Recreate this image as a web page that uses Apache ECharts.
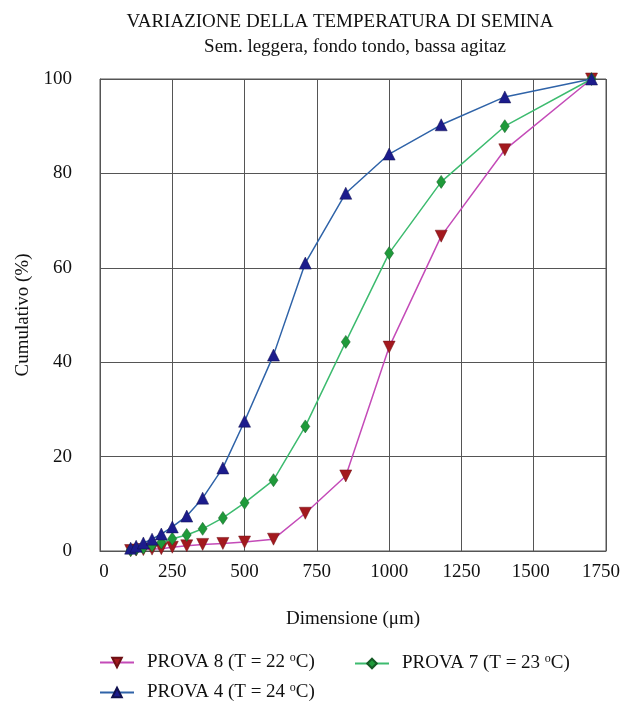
<!DOCTYPE html>
<html>
<head>
<meta charset="utf-8">
<script src="https://cdn.jsdelivr.net/npm/echarts@6/dist/echarts.min.js"></script>
<style>
  html, body { margin: 0; padding: 0; background: #fff; }
  #main { width: 621px; height: 702px; }
</style>
</head>
<body>
<div id="main"></div>
<script>
// dimensioni setacci (um)
var sizes = [106, 125, 150, 180, 212, 250, 300, 355, 425, 500, 600, 710, 850, 1000, 1180, 1400, 1700];

// cumulativo (%)
var prova8 = [0.1, 0.2, 0.3, 0.4, 0.5, 0.8, 1.1, 1.4, 1.6, 1.9, 2.5, 8.0, 15.9, 43.2, 66.7, 85.0, 100];
var prova7 = [0.2, 0.4, 0.7, 1.2, 1.8, 2.6, 3.4, 4.7, 7.0, 10.2, 15.0, 26.4, 44.3, 63.1, 78.2, 90.0, 100];
var prova4 = [0.6, 1.0, 1.7, 2.5, 3.6, 5.1, 7.4, 11.2, 17.6, 27.5, 41.5, 61.0, 75.8, 84.1, 90.3, 96.2, 100];

var xTicks = [0, 250, 500, 750, 1000, 1250, 1500, 1750];
var yTicks = [0, 20, 40, 60, 80, 100];

var name8 = 'PROVA 8 (T = 22 °C)';
var name7 = 'PROVA 7 (T = 23 °C)';
var name4 = 'PROVA 4 (T = 24 °C)';

function pairs(ys) {
  return sizes.map(function (x, i) { return [x, ys[i]]; });
}

var font = '"Liberation Serif", "Times New Roman", serif';
var lbl = { fontFamily: font, fontSize: 19, color: '#111' };

var legendBase = {
  orient: 'horizontal',
  itemWidth: 34,
  itemHeight: 12,
  textStyle: {
    fontFamily: font, fontSize: 19, color: '#111',
    padding: [0, 0, 0, 8],
    rich: { sup: { fontFamily: font, fontSize: 12, color: '#111', verticalAlign: 'top', padding: [0, 0, 9, 0] } }
  },
  formatter: function (n) { return n.replace('°', '{sup|o}'); }
};

var chart = echarts.init(document.getElementById('main'));

var option = {
  backgroundColor: '#ffffff',
  animation: false,
  title: [
    {
      text: 'VARIAZIONE DELLA TEMPERATURA DI SEMINA',
      left: 335, top: 8, textAlign: 'center',
      textStyle: { fontFamily: font, fontSize: 19, fontWeight: 'normal', color: '#111' }
    },
    {
      text: 'Sem. leggera, fondo tondo, bassa agitaz',
      left: 350, top: 33, textAlign: 'center',
      textStyle: { fontFamily: font, fontSize: 19, fontWeight: 'normal', color: '#111' }
    }
  ],
  legend: [
    Object.assign({}, legendBase, { data: [name8], left: 94, top: 647 }),
    Object.assign({}, legendBase, { data: [name7], left: 349, top: 648 }),
    Object.assign({}, legendBase, { data: [name4], left: 94, top: 677 })
  ],
  grid: {
    left: 100, right: 15, top: 79, bottom: 151,
    outerBoundsMode: 'none',
    show: true, borderColor: '#555', borderWidth: 1
  },
  xAxis: {
    type: 'value',
    min: 0, max: 1750, interval: 250,
    name: 'Dimensione (μm)',
    nameLocation: 'middle',
    nameGap: 59,
    nameTextStyle: { fontFamily: font, fontSize: 19, color: '#111' },
    axisLine: { show: true, lineStyle: { color: '#555' } },
    axisTick: { show: false },
    axisLabel: {
      margin: 12, fontFamily: font, fontSize: 19, color: '#111',
      formatter: function (v) {
        if (xTicks.indexOf(v) < 0) return '';
        if (v === 0) return '{l|' + v + '}';
        if (v === 1500) return '{m|' + v + '}';
        if (v === 1750) return '{r|' + v + '}';
        return String(v);
      },
      rich: {
        l: Object.assign({ padding: [0, 0, 0, 8] }, lbl),
        m: Object.assign({ padding: [0, 6, 0, 0] }, lbl),
        r: Object.assign({ padding: [0, 10, 0, 0] }, lbl)
      }
    },
    splitLine: { show: true, lineStyle: { color: '#555', width: 1 } }
  },
  yAxis: {
    type: 'value',
    min: 0, max: 100, interval: 20,
    name: 'Cumulativo (%)',
    nameLocation: 'middle',
    nameGap: 66,
    nameTextStyle: { fontFamily: font, fontSize: 19, color: '#111' },
    axisLine: { show: true, lineStyle: { color: '#555' } },
    axisTick: { show: false },
    axisLabel: {
      margin: 28, fontFamily: font, fontSize: 19, color: '#111',
      formatter: function (v) { return yTicks.indexOf(v) >= 0 ? String(v) : ''; }
    },
    splitLine: { show: true, lineStyle: { color: '#555', width: 1 } }
  },
  series: [
    {
      name: name8, type: 'line', data: pairs(prova8),
      symbol: 'triangle', symbolRotate: 180, symbolSize: 12,
      lineStyle: { color: '#c44bb8', width: 1.5 },
      itemStyle: { color: '#a3191e', borderColor: '#6e1014', borderWidth: 0.5 },
      z: 2
    },
    {
      name: name7, type: 'line', data: pairs(prova7),
      symbol: 'diamond', symbolSize: [9, 13],
      lineStyle: { color: '#3dbb6f', width: 1.5 },
      itemStyle: { color: '#1f9a3a', borderColor: '#145a25', borderWidth: 0.5 },
      z: 3
    },
    {
      name: name4, type: 'line', data: pairs(prova4),
      symbol: 'triangle', symbolSize: 12,
      lineStyle: { color: '#2f63a8', width: 1.5 },
      itemStyle: { color: '#1c1c8c', borderColor: '#10104f', borderWidth: 0.5 },
      z: 4
    }
  ]
};

chart.setOption(option);
</script>
</body>
</html>
